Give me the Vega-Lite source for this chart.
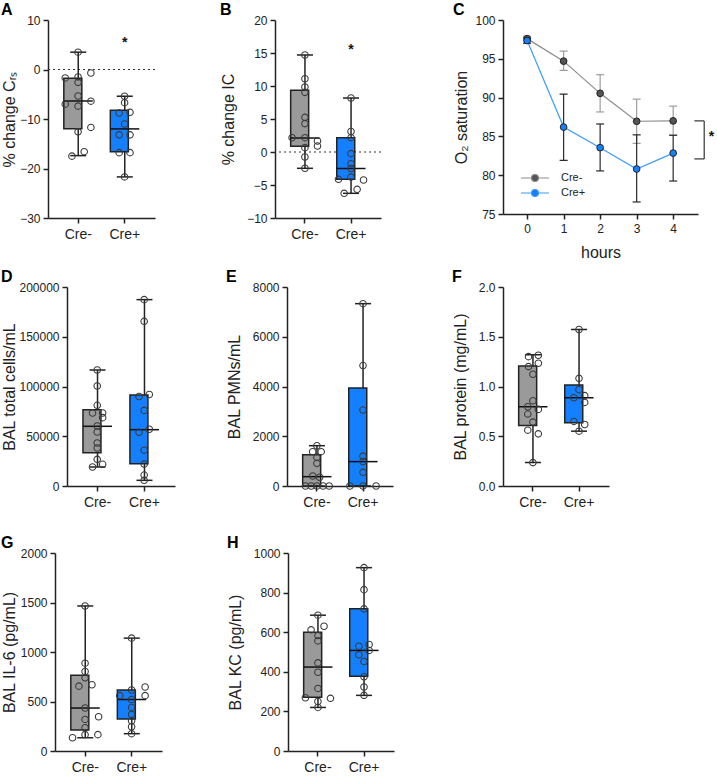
{
  "$schema": "https://vega.github.io/schema/vega-lite/v6.json",
  "padding": {"left": 0, "top": 2, "right": 0, "bottom": 0},
  "config": {
    "font": "Liberation Sans",
    "view": {"stroke": null},
    "axis": {"domainColor": "#222", "domainWidth": 1.5, "tickColor": "#222", "tickWidth": 1.5, "tickSize": 5, "labelColor": "#222", "labelFontSize": 12, "titleFontSize": 16, "titleFontWeight": "normal", "titleColor": "#222", "grid": false, "labelPadding": 3, "labelOverlap": false},
    "title": {"anchor": "start", "fontSize": 16, "fontWeight": "bold", "color": "#000", "offset": -4}
  },
  "resolve": {"scale": {"color": "independent", "fill": "independent", "stroke": "independent"}, "legend": {"color": "independent", "fill": "independent", "stroke": "independent"}},
  "datasets": {
    "A_pts": [
      {"group": "Cre-", "v": 3.5, "j": 0}, {"group": "Cre-", "v": -1.7, "j": -0.9}, {"group": "Cre-", "v": -1.5, "j": 0},
      {"group": "Cre-", "v": -0.7, "j": 0.9}, {"group": "Cre-", "v": -2.6, "j": 0}, {"group": "Cre-", "v": -5.35, "j": 0},
      {"group": "Cre-", "v": -7.0, "j": -0.9}, {"group": "Cre-", "v": -7.4, "j": 0}, {"group": "Cre-", "v": -6.4, "j": 0.9},
      {"group": "Cre-", "v": -12.6, "j": 0}, {"group": "Cre-", "v": -11.7, "j": 0.9}, {"group": "Cre-", "v": -17.5, "j": -0.43},
      {"group": "Cre-", "v": -16.6, "j": 0.43},
      {"group": "Cre+", "v": -5.4, "j": 0}, {"group": "Cre+", "v": -6.7, "j": 0}, {"group": "Cre+", "v": -8.8, "j": -0.38},
      {"group": "Cre+", "v": -8.65, "j": 0.38}, {"group": "Cre+", "v": -11.0, "j": 0}, {"group": "Cre+", "v": -13.2, "j": -0.38},
      {"group": "Cre+", "v": -13.2, "j": 0.38}, {"group": "Cre+", "v": -16.8, "j": -0.38}, {"group": "Cre+", "v": -16.8, "j": 0.38},
      {"group": "Cre+", "v": -21.7, "j": 0}
    ],
    "A_box": [
      {"group": "Cre-", "min": -17.4, "q1": -11.95, "med": -6.36, "q3": -1.78, "max": 3.5},
      {"group": "Cre+", "min": -21.7, "q1": -16.6, "med": -12.0, "q3": -8.25, "max": -5.4}
    ],
    "B_pts": [
      {"group": "Cre-", "v": 14.7, "j": 0}, {"group": "Cre-", "v": 11.1, "j": 0}, {"group": "Cre-", "v": 9.85, "j": 0},
      {"group": "Cre-", "v": 9.04, "j": 0}, {"group": "Cre-", "v": 5.25, "j": 0}, {"group": "Cre-", "v": 4.3, "j": 0},
      {"group": "Cre-", "v": 2.17, "j": 0}, {"group": "Cre-", "v": 2.17, "j": -0.9}, {"group": "Cre-", "v": 1.67, "j": 0.88},
      {"group": "Cre-", "v": 0.9, "j": 0.88}, {"group": "Cre-", "v": 0.66, "j": 0}, {"group": "Cre-", "v": -0.76, "j": 0},
      {"group": "Cre-", "v": -2.47, "j": 0},
      {"group": "Cre+", "v": 8.18, "j": 0}, {"group": "Cre+", "v": 3.1, "j": 0}, {"group": "Cre+", "v": 2.17, "j": 0},
      {"group": "Cre+", "v": -0.25, "j": 0}, {"group": "Cre+", "v": -1.77, "j": 0}, {"group": "Cre+", "v": -2.5, "j": 0},
      {"group": "Cre+", "v": -3.8, "j": 0}, {"group": "Cre+", "v": -4.14, "j": -0.88}, {"group": "Cre+", "v": -4.24, "j": 0.88},
      {"group": "Cre+", "v": -6.26, "j": -0.48}, {"group": "Cre+", "v": -5.66, "j": 0.43}
    ],
    "B_box": [
      {"group": "Cre-", "min": -2.47, "q1": 0.86, "med": 2.12, "q3": 9.34, "max": 14.7},
      {"group": "Cre+", "min": -6.26, "q1": -4.14, "med": -2.5, "q3": 2.17, "max": 8.18}
    ],
    "C_data": [
      {"group": "Cre-", "h": 0, "m": 97.6, "lo": 97.3, "hi": 97.9},
      {"group": "Cre-", "h": 1, "m": 94.7, "lo": 93.5, "hi": 96.0},
      {"group": "Cre-", "h": 2, "m": 90.55, "lo": 88.15, "hi": 92.95},
      {"group": "Cre-", "h": 3, "m": 86.95, "lo": 84.1, "hi": 89.8},
      {"group": "Cre-", "h": 4, "m": 87.0, "lo": 85.15, "hi": 88.9},
      {"group": "Cre+", "h": 0, "m": 97.35, "lo": 97.0, "hi": 97.7},
      {"group": "Cre+", "h": 1, "m": 86.2, "lo": 81.9, "hi": 90.45},
      {"group": "Cre+", "h": 2, "m": 83.55, "lo": 80.55, "hi": 86.6},
      {"group": "Cre+", "h": 3, "m": 80.8, "lo": 76.55, "hi": 85.2},
      {"group": "Cre+", "h": 4, "m": 82.85, "lo": 79.25, "hi": 85.15}
    ],
    "D_pts": [
      {"group": "Cre-", "v": 116600, "j": 0}, {"group": "Cre-", "v": 100500, "j": 0}, {"group": "Cre-", "v": 81100, "j": 0},
      {"group": "Cre-", "v": 73400, "j": -0.33}, {"group": "Cre-", "v": 73400, "j": 0.38}, {"group": "Cre-", "v": 68700, "j": 0.38},
      {"group": "Cre-", "v": 60300, "j": 0}, {"group": "Cre-", "v": 54300, "j": 0}, {"group": "Cre-", "v": 43200, "j": 0},
      {"group": "Cre-", "v": 38200, "j": 0}, {"group": "Cre-", "v": 26800, "j": 0}, {"group": "Cre-", "v": 19100, "j": -0.33},
      {"group": "Cre-", "v": 21800, "j": 0.38},
      {"group": "Cre+", "v": 187300, "j": 0}, {"group": "Cre+", "v": 165500, "j": 0}, {"group": "Cre+", "v": 90000, "j": -0.36},
      {"group": "Cre+", "v": 92000, "j": 0.36}, {"group": "Cre+", "v": 76000, "j": 0}, {"group": "Cre+", "v": 54000, "j": -0.36},
      {"group": "Cre+", "v": 57000, "j": 0.36}, {"group": "Cre+", "v": 36000, "j": 0}, {"group": "Cre+", "v": 22000, "j": 0},
      {"group": "Cre+", "v": 11000, "j": 0}, {"group": "Cre+", "v": 5700, "j": 0}
    ],
    "D_box": [
      {"group": "Cre-", "min": 19100, "q1": 33500, "med": 60000, "q3": 76700, "max": 116600},
      {"group": "Cre+", "min": 5700, "q1": 22400, "med": 56600, "q3": 91500, "max": 187300}
    ],
    "E_pts": [
      {"group": "Cre-", "v": 1620, "j": 0}, {"group": "Cre-", "v": 1380, "j": -0.3}, {"group": "Cre-", "v": 1380, "j": 0.3},
      {"group": "Cre-", "v": 1150, "j": 0}, {"group": "Cre-", "v": 910, "j": 0}, {"group": "Cre-", "v": 400, "j": -0.29},
      {"group": "Cre-", "v": 350, "j": 0.19}, {"group": "Cre-", "v": 0, "j": -0.8}, {"group": "Cre-", "v": 0, "j": -0.4},
      {"group": "Cre-", "v": 0, "j": 0}, {"group": "Cre-", "v": 0, "j": 0.43}, {"group": "Cre-", "v": 0, "j": 0.86},
      {"group": "Cre+", "v": 7330, "j": 0}, {"group": "Cre+", "v": 4842, "j": 0}, {"group": "Cre+", "v": 3053, "j": 0},
      {"group": "Cre+", "v": 1200, "j": 0}, {"group": "Cre+", "v": 980, "j": 0}, {"group": "Cre+", "v": 550, "j": 0},
      {"group": "Cre+", "v": 0, "j": -0.92}, {"group": "Cre+", "v": 0, "j": 0}, {"group": "Cre+", "v": 0, "j": 0.92}
    ],
    "E_box": [
      {"group": "Cre-", "min": 0, "q1": 0, "med": 375, "q3": 1260, "max": 1620},
      {"group": "Cre+", "min": 0, "q1": 0, "med": 980, "q3": 3941, "max": 7330}
    ],
    "F_pts": [
      {"group": "Cre-", "v": 1.30, "j": -0.31}, {"group": "Cre-", "v": 1.314, "j": 0.38}, {"group": "Cre-", "v": 1.20, "j": -0.31},
      {"group": "Cre-", "v": 1.234, "j": 0.38}, {"group": "Cre-", "v": 1.123, "j": 0}, {"group": "Cre-", "v": 0.857, "j": 0},
      {"group": "Cre-", "v": 0.797, "j": -0.36}, {"group": "Cre-", "v": 0.77, "j": 0.38}, {"group": "Cre-", "v": 0.723, "j": -0.36},
      {"group": "Cre-", "v": 0.642, "j": 0}, {"group": "Cre-", "v": 0.561, "j": -0.36}, {"group": "Cre-", "v": 0.524, "j": 0.38},
      {"group": "Cre-", "v": 0.235, "j": 0},
      {"group": "Cre+", "v": 1.573, "j": 0}, {"group": "Cre+", "v": 1.082, "j": 0}, {"group": "Cre+", "v": 0.968, "j": 0},
      {"group": "Cre+", "v": 0.887, "j": -0.36}, {"group": "Cre+", "v": 0.908, "j": 0.4}, {"group": "Cre+", "v": 0.84, "j": 0.4},
      {"group": "Cre+", "v": 0.649, "j": -0.36}, {"group": "Cre+", "v": 0.618, "j": 0.4}, {"group": "Cre+", "v": 0.551, "j": 0}
    ],
    "F_box": [
      {"group": "Cre-", "min": 0.235, "q1": 0.608, "med": 0.797, "q3": 1.207, "max": 1.318},
      {"group": "Cre+", "min": 0.551, "q1": 0.635, "med": 0.887, "q3": 1.015, "max": 1.573}
    ],
    "G_pts": [
      {"group": "Cre-", "v": 1465, "j": 0}, {"group": "Cre-", "v": 887, "j": 0}, {"group": "Cre-", "v": 803, "j": 0},
      {"group": "Cre-", "v": 739, "j": 0}, {"group": "Cre-", "v": 655, "j": -0.43}, {"group": "Cre-", "v": 669, "j": 0.48},
      {"group": "Cre-", "v": 434, "j": 0}, {"group": "Cre-", "v": 319, "j": 0}, {"group": "Cre-", "v": 346, "j": 0.95},
      {"group": "Cre-", "v": 235, "j": 0}, {"group": "Cre-", "v": 165, "j": 0}, {"group": "Cre-", "v": 134, "j": -0.88},
      {"group": "Cre-", "v": 165, "j": 0.9},
      {"group": "Cre+", "v": 1140, "j": 0}, {"group": "Cre+", "v": 646, "j": 0.95}, {"group": "Cre+", "v": 616, "j": 0},
      {"group": "Cre+", "v": 559, "j": -0.83}, {"group": "Cre+", "v": 559, "j": 0.95}, {"group": "Cre+", "v": 520, "j": 0},
      {"group": "Cre+", "v": 440, "j": 0}, {"group": "Cre+", "v": 370, "j": 0}, {"group": "Cre+", "v": 305, "j": 0},
      {"group": "Cre+", "v": 245, "j": 0}, {"group": "Cre+", "v": 175, "j": 0}
    ],
    "G_box": [
      {"group": "Cre-", "min": 134, "q1": 212, "med": 434, "q3": 766, "max": 1465},
      {"group": "Cre+", "min": 175, "q1": 323, "med": 520, "q3": 616, "max": 1140}
    ],
    "H_pts": [
      {"group": "Cre-", "v": 686, "j": 0}, {"group": "Cre-", "v": 612, "j": -0.48}, {"group": "Cre-", "v": 630, "j": 0.43},
      {"group": "Cre-", "v": 583, "j": 0}, {"group": "Cre-", "v": 556, "j": 0}, {"group": "Cre-", "v": 445, "j": 0},
      {"group": "Cre-", "v": 398, "j": 0}, {"group": "Cre-", "v": 316, "j": 0}, {"group": "Cre-", "v": 269, "j": -0.88},
      {"group": "Cre-", "v": 266, "j": 0.88}, {"group": "Cre-", "v": 250, "j": 0}, {"group": "Cre-", "v": 220, "j": 0},
      {"group": "Cre+", "v": 926, "j": 0}, {"group": "Cre+", "v": 815, "j": 0}, {"group": "Cre+", "v": 718, "j": 0},
      {"group": "Cre+", "v": 529, "j": -0.36}, {"group": "Cre+", "v": 538, "j": 0.36}, {"group": "Cre+", "v": 508, "j": 0.36},
      {"group": "Cre+", "v": 486, "j": -0.36}, {"group": "Cre+", "v": 452, "j": 0}, {"group": "Cre+", "v": 375, "j": 0},
      {"group": "Cre+", "v": 323, "j": 0}, {"group": "Cre+", "v": 281, "j": 0}
    ],
    "H_box": [
      {"group": "Cre-", "min": 220, "q1": 272, "med": 424, "q3": 600, "max": 686},
      {"group": "Cre+", "min": 281, "q1": 378, "med": 508, "q3": 718, "max": 926}
    ]
  },
  "vconcat": [
    {
      "resolve": {"scale": {"color": "independent", "fill": "independent", "stroke": "independent"}, "legend": {"color": "independent", "fill": "independent", "stroke": "independent"}},
      "vconcat": [
        {
          "resolve": {"scale": {"color": "independent", "fill": "independent", "stroke": "independent"}, "legend": {"color": "independent", "fill": "independent", "stroke": "independent"}},
          "hconcat": [
            {"width": 1, "height": 10, "data": {"values": [{}]}, "mark": {"type": "point", "opacity": 0, "size": 0}},
            {
              "resolve": {"scale": {"color": "independent", "fill": "independent", "stroke": "independent"}, "legend": {"color": "independent", "fill": "independent", "stroke": "independent"}},
              "hconcat": [
                {
                  "resolve": {"scale": {"color": "independent"}, "legend": {"color": "independent"}},
                  "hconcat": [
                    {
                      "title": "A", "width": 107, "height": 198,
                      "layer": [
                        {"data": {"values": [{}]}, "mark": {"type": "rule", "strokeDash": [2, 3], "color": "#333", "strokeWidth": 1}, "encoding": {"y": {"datum": 0}}},
                        {"data": {"name": "A_box"}, "mark": {"type": "rule", "color": "#222", "strokeWidth": 1.5},
                         "encoding": {"x": {"field": "group", "type": "nominal", "scale": {"domain": ["Cre-", "Cre+"], "paddingInner": 0.38, "paddingOuter": 0.34}, "axis": {"title": null, "labelAngle": 0, "labelFontSize": 14, "labelPadding": 4}},
                          "y": {"field": "min", "type": "quantitative", "scale": {"domain": [-30, 10], "nice": false}, "axis": {"values": [-30, -20, -10, 0, 10], "tickCount": 20, "format": "d", "labelOverlap": false, "title": "% change Cᵣₛ", "titleX": -31, "titleY": 99}}, "y2": {"field": "max"}}},
                        {"data": {"name": "A_box"}, "mark": {"type": "bar", "stroke": "#222", "strokeWidth": 1.5},
                         "encoding": {"x": {"field": "group", "type": "nominal"}, "y": {"field": "q1", "type": "quantitative"}, "y2": {"field": "q3"},
                          "color": {"field": "group", "type": "nominal", "scale": {"domain": ["Cre-", "Cre+"], "range": ["#9a9a9a", "#1480ff"]}, "legend": null}}},
                        {"data": {"name": "A_box"}, "mark": {"type": "tick", "color": "#111", "thickness": 1.5, "size": 29, "opacity": 1}, "encoding": {"x": {"field": "group", "type": "nominal"}, "y": {"field": "med", "type": "quantitative"}}},
                        {"data": {"name": "A_box"}, "mark": {"type": "tick", "color": "#222", "thickness": 1.5, "size": 16, "opacity": 1}, "encoding": {"x": {"field": "group", "type": "nominal"}, "y": {"field": "min", "type": "quantitative"}}},
                        {"data": {"name": "A_box"}, "mark": {"type": "tick", "color": "#222", "thickness": 1.5, "size": 16, "opacity": 1}, "encoding": {"x": {"field": "group", "type": "nominal"}, "y": {"field": "max", "type": "quantitative"}}},
                        {"data": {"name": "A_pts"}, "mark": {"type": "point", "shape": "circle", "filled": false, "stroke": "#3a3a3a", "strokeWidth": 1.1, "size": 42, "opacity": 1},
                         "encoding": {"x": {"field": "group", "type": "nominal"}, "xOffset": {"field": "j", "type": "quantitative", "scale": {"domain": [-1, 1], "range": [0, 28.5]}}, "y": {"field": "v", "type": "quantitative"}}},
                        {"data": {"values": [{}]}, "mark": {"type": "text", "text": "*", "fontSize": 14, "fontWeight": "bold", "color": "#111", "baseline": "middle"}, "encoding": {"x": {"datum": "Cre+"}, "y": {"datum": 5.4}}}
                      ]
                    },
                    {
                      "title": "B", "width": 106, "height": 198,
                      "layer": [
                        {"data": {"values": [{}]}, "mark": {"type": "rule", "strokeDash": [2, 3], "color": "#333", "strokeWidth": 1}, "encoding": {"y": {"datum": 0}}},
                        {"data": {"name": "B_box"}, "mark": {"type": "rule", "color": "#222", "strokeWidth": 1.5},
                         "encoding": {"x": {"field": "group", "type": "nominal", "scale": {"domain": ["Cre-", "Cre+"], "paddingInner": 0.38, "paddingOuter": 0.34}, "axis": {"title": null, "labelAngle": 0, "labelFontSize": 14, "labelPadding": 4}},
                          "y": {"field": "min", "type": "quantitative", "scale": {"domain": [-10, 20], "nice": false}, "axis": {"values": [-10, -5, 0, 5, 10, 15, 20], "tickCount": 20, "format": "d", "labelOverlap": false, "title": "% change IC", "titleX": -39, "titleY": 99}}, "y2": {"field": "max"}}},
                        {"data": {"name": "B_box"}, "mark": {"type": "bar", "stroke": "#222", "strokeWidth": 1.5},
                         "encoding": {"x": {"field": "group", "type": "nominal"}, "y": {"field": "q1", "type": "quantitative"}, "y2": {"field": "q3"},
                          "color": {"field": "group", "type": "nominal", "scale": {"domain": ["Cre-", "Cre+"], "range": ["#9a9a9a", "#1480ff"]}, "legend": null}}},
                        {"data": {"name": "B_box"}, "mark": {"type": "tick", "color": "#111", "thickness": 1.5, "size": 29, "opacity": 1}, "encoding": {"x": {"field": "group", "type": "nominal"}, "y": {"field": "med", "type": "quantitative"}}},
                        {"data": {"name": "B_box"}, "mark": {"type": "tick", "color": "#222", "thickness": 1.5, "size": 16, "opacity": 1}, "encoding": {"x": {"field": "group", "type": "nominal"}, "y": {"field": "min", "type": "quantitative"}}},
                        {"data": {"name": "B_box"}, "mark": {"type": "tick", "color": "#222", "thickness": 1.5, "size": 16, "opacity": 1}, "encoding": {"x": {"field": "group", "type": "nominal"}, "y": {"field": "max", "type": "quantitative"}}},
                        {"data": {"name": "B_pts"}, "mark": {"type": "point", "shape": "circle", "filled": false, "stroke": "#3a3a3a", "strokeWidth": 1.1, "size": 42, "opacity": 1},
                         "encoding": {"x": {"field": "group", "type": "nominal"}, "xOffset": {"field": "j", "type": "quantitative", "scale": {"domain": [-1, 1], "range": [0, 28.5]}}, "y": {"field": "v", "type": "quantitative"}}},
                        {"data": {"values": [{}]}, "mark": {"type": "text", "text": "*", "fontSize": 14, "fontWeight": "bold", "color": "#111", "baseline": "middle"}, "encoding": {"x": {"datum": "Cre+"}, "y": {"datum": 15.5}}}
                      ]
                    }
                  ],
                  "spacing": 64
                },
                {
                  "title": "C", "width": 195, "height": 194,
                  "data": {"name": "C_data"},
                  "layer": [
                    {"transform": [{"filter": "datum.group == 'Cre-'"}], "mark": {"type": "rule", "color": "#9d9d9d", "strokeWidth": 1.2},
                     "encoding": {"x": {"field": "h", "type": "quantitative", "scale": {"domain": [-0.66, 4.68], "nice": false, "zero": false}, "axis": {"values": [0, 1, 2, 3, 4], "tickCount": 20, "format": "d", "title": "hours", "titlePadding": 10, "labelPadding": 4}},
                      "y": {"field": "lo", "type": "quantitative", "scale": {"domain": [75, 100], "nice": false, "zero": false}, "axis": {"values": [75, 80, 85, 90, 95, 100], "tickCount": 20, "format": "d", "labelOverlap": false, "title": "O₂ saturation", "titleX": -34, "titleY": 97}}, "y2": {"field": "hi"}}},
                    {"transform": [{"filter": "datum.group == 'Cre-'"}, {"fold": ["lo", "hi"], "as": ["k", "e"]}], "mark": {"type": "tick", "orient": "horizontal", "color": "#9d9d9d", "thickness": 1.2, "size": 8, "opacity": 1},
                     "encoding": {"x": {"field": "h", "type": "quantitative"}, "y": {"field": "e", "type": "quantitative"}}},
                    {"transform": [{"filter": "datum.group == 'Cre+'"}], "mark": {"type": "rule", "color": "#2a2a2a", "strokeWidth": 1.2},
                     "encoding": {"x": {"field": "h", "type": "quantitative"}, "y": {"field": "lo", "type": "quantitative"}, "y2": {"field": "hi"}}},
                    {"transform": [{"filter": "datum.group == 'Cre+'"}, {"fold": ["lo", "hi"], "as": ["k", "e"]}], "mark": {"type": "tick", "orient": "horizontal", "color": "#2a2a2a", "thickness": 1.2, "size": 8, "opacity": 1},
                     "encoding": {"x": {"field": "h", "type": "quantitative"}, "y": {"field": "e", "type": "quantitative"}}},
                    {"mark": {"type": "line", "strokeWidth": 1.2},
                     "encoding": {"x": {"field": "h", "type": "quantitative"}, "y": {"field": "m", "type": "quantitative"},
                      "stroke": {"field": "group", "type": "nominal", "scale": {"domain": ["Cre-", "Cre+"], "range": ["#8c8c8c", "#3d9bff"]},
                       "legend": {"orient": "none", "legendX": 26, "legendY": 152, "title": null, "symbolType": "M-2.8,0H-0.7M0.7,0H2.8M-0.7,0A0.7,0.7,0,1,1,0.7,0A0.7,0.7,0,1,1,-0.7,0Z", "symbolSize": 100, "symbolStrokeWidth": 1.2, "labelFontSize": 11, "labelOffset": 20, "rowPadding": 3, "labelColor": "#222", "padding": 0}}}},
                    {"mark": {"type": "point", "shape": "circle", "filled": true, "stroke": "#222", "strokeWidth": 1, "size": 45, "opacity": 1},
                     "encoding": {"x": {"field": "h", "type": "quantitative"}, "y": {"field": "m", "type": "quantitative"},
                      "fill": {"field": "group", "type": "nominal", "scale": {"domain": ["Cre-", "Cre+"], "range": ["#555555", "#1480ff"]},
                       "legend": {"orient": "none", "legendX": 26, "legendY": 152, "title": null, "symbolType": "M-2.8,0H-0.7M0.7,0H2.8M-0.7,0A0.7,0.7,0,1,1,0.7,0A0.7,0.7,0,1,1,-0.7,0Z", "symbolSize": 100, "symbolStrokeWidth": 1.2, "labelFontSize": 11, "labelOffset": 20, "rowPadding": 3, "labelColor": "#222", "padding": 0}}}},
                    {"data": {"values": [{}]}, "mark": {"type": "rule", "color": "#333", "strokeWidth": 1.2}, "encoding": {"x": {"datum": 4.85}, "y": {"datum": 82.1}, "y2": {"datum": 87.0}}},
                    {"data": {"values": [{}]}, "mark": {"type": "rule", "color": "#333", "strokeWidth": 1.2}, "encoding": {"x": {"datum": 4.58}, "x2": {"datum": 4.85}, "y": {"datum": 87.0}}},
                    {"data": {"values": [{}]}, "mark": {"type": "rule", "color": "#333", "strokeWidth": 1.2}, "encoding": {"x": {"datum": 4.58}, "x2": {"datum": 4.85}, "y": {"datum": 82.1}}},
                    {"data": {"values": [{}]}, "mark": {"type": "text", "text": "*", "fontSize": 14, "fontWeight": "bold", "color": "#111", "baseline": "middle"}, "encoding": {"x": {"datum": 5.05}, "y": {"datum": 84.9}}}
                  ]
                }
              ],
              "spacing": 71
            }
          ],
          "spacing": 0
        },
        {
          "resolve": {"scale": {"color": "independent"}, "legend": {"color": "independent"}},
          "hconcat": [
            {"width": 1, "height": 10, "data": {"values": [{}]}, "mark": {"type": "point", "opacity": 0, "size": 0}},
            {
              "resolve": {"scale": {"color": "independent"}, "legend": {"color": "independent"}},
              "hconcat": [
                {
                  "resolve": {"scale": {"color": "independent"}, "legend": {"color": "independent"}},
                  "hconcat": [
                    {
                      "title": "D", "width": 108, "height": 199,
                      "layer": [
                        {"data": {"name": "D_box"}, "mark": {"type": "rule", "color": "#222", "strokeWidth": 1.5},
                         "encoding": {"x": {"field": "group", "type": "nominal", "scale": {"domain": ["Cre-", "Cre+"], "paddingInner": 0.38, "paddingOuter": 0.34}, "axis": {"title": null, "labelAngle": 0, "labelFontSize": 14, "labelPadding": 4}},
                          "y": {"field": "min", "type": "quantitative", "scale": {"domain": [0, 200000], "nice": false}, "axis": {"values": [0, 50000, 100000, 150000, 200000], "tickCount": 20, "labelOverlap": false, "format": "d", "title": "BAL total cells/mL", "titleX": -50, "titleY": 99.5}}, "y2": {"field": "max"}}},
                        {"data": {"name": "D_box"}, "mark": {"type": "bar", "stroke": "#222", "strokeWidth": 1.5},
                         "encoding": {"x": {"field": "group", "type": "nominal"}, "y": {"field": "q1", "type": "quantitative"}, "y2": {"field": "q3"},
                          "color": {"field": "group", "type": "nominal", "scale": {"domain": ["Cre-", "Cre+"], "range": ["#9a9a9a", "#1480ff"]}, "legend": null}}},
                        {"data": {"name": "D_box"}, "mark": {"type": "tick", "color": "#111", "thickness": 1.5, "size": 29, "opacity": 1}, "encoding": {"x": {"field": "group", "type": "nominal"}, "y": {"field": "med", "type": "quantitative"}}},
                        {"data": {"name": "D_box"}, "mark": {"type": "tick", "color": "#222", "thickness": 1.5, "size": 16, "opacity": 1}, "encoding": {"x": {"field": "group", "type": "nominal"}, "y": {"field": "min", "type": "quantitative"}}},
                        {"data": {"name": "D_box"}, "mark": {"type": "tick", "color": "#222", "thickness": 1.5, "size": 16, "opacity": 1}, "encoding": {"x": {"field": "group", "type": "nominal"}, "y": {"field": "max", "type": "quantitative"}}},
                        {"data": {"name": "D_pts"}, "mark": {"type": "point", "shape": "circle", "filled": false, "stroke": "#3a3a3a", "strokeWidth": 1.1, "size": 42, "opacity": 1},
                         "encoding": {"x": {"field": "group", "type": "nominal"}, "xOffset": {"field": "j", "type": "quantitative", "scale": {"domain": [-1, 1], "range": [0, 28.5]}}, "y": {"field": "v", "type": "quantitative"}}}
                      ]
                    },
                    {
                      "title": "E", "width": 106, "height": 199,
                      "layer": [
                        {"data": {"name": "E_box"}, "mark": {"type": "rule", "color": "#222", "strokeWidth": 1.5},
                         "encoding": {"x": {"field": "group", "type": "nominal", "scale": {"domain": ["Cre-", "Cre+"], "paddingInner": 0.38, "paddingOuter": 0.34}, "axis": {"title": null, "labelAngle": 0, "labelFontSize": 14, "labelPadding": 4}},
                          "y": {"field": "min", "type": "quantitative", "scale": {"domain": [0, 8000], "nice": false}, "axis": {"values": [0, 2000, 4000, 6000, 8000], "tickCount": 20, "labelOverlap": false, "format": "d", "title": "BAL PMNs/mL", "titleX": -45, "titleY": 99.5}}, "y2": {"field": "max"}}},
                        {"data": {"name": "E_box"}, "mark": {"type": "bar", "stroke": "#222", "strokeWidth": 1.5},
                         "encoding": {"x": {"field": "group", "type": "nominal"}, "y": {"field": "q1", "type": "quantitative"}, "y2": {"field": "q3"},
                          "color": {"field": "group", "type": "nominal", "scale": {"domain": ["Cre-", "Cre+"], "range": ["#9a9a9a", "#1480ff"]}, "legend": null}}},
                        {"data": {"name": "E_box"}, "mark": {"type": "tick", "color": "#111", "thickness": 1.5, "size": 29, "opacity": 1}, "encoding": {"x": {"field": "group", "type": "nominal"}, "y": {"field": "med", "type": "quantitative"}}},
                        {"data": {"name": "E_box"}, "mark": {"type": "tick", "color": "#222", "thickness": 1.5, "size": 16, "opacity": 1}, "encoding": {"x": {"field": "group", "type": "nominal"}, "y": {"field": "min", "type": "quantitative"}}},
                        {"data": {"name": "E_box"}, "mark": {"type": "tick", "color": "#222", "thickness": 1.5, "size": 16, "opacity": 1}, "encoding": {"x": {"field": "group", "type": "nominal"}, "y": {"field": "max", "type": "quantitative"}}},
                        {"data": {"name": "E_pts"}, "mark": {"type": "point", "shape": "circle", "filled": false, "stroke": "#3a3a3a", "strokeWidth": 1.1, "size": 42, "opacity": 1},
                         "encoding": {"x": {"field": "group", "type": "nominal"}, "xOffset": {"field": "j", "type": "quantitative", "scale": {"domain": [-1, 1], "range": [0, 28.5]}}, "y": {"field": "v", "type": "quantitative"}}}
                      ]
                    }
                  ],
                  "spacing": 51
                },
                {
                  "title": "F", "width": 106, "height": 199,
                  "layer": [
                    {"data": {"name": "F_box"}, "mark": {"type": "rule", "color": "#222", "strokeWidth": 1.5},
                     "encoding": {"x": {"field": "group", "type": "nominal", "scale": {"domain": ["Cre-", "Cre+"], "paddingInner": 0.38, "paddingOuter": 0.34}, "axis": {"title": null, "labelAngle": 0, "labelFontSize": 14, "labelPadding": 4}},
                      "y": {"field": "min", "type": "quantitative", "scale": {"domain": [0, 2], "nice": false}, "axis": {"values": [0, 0.5, 1, 1.5, 2], "tickCount": 20, "labelOverlap": false, "format": ".1f", "title": "BAL protein (mg/mL)", "titleX": -35, "titleY": 99.5}}, "y2": {"field": "max"}}},
                    {"data": {"name": "F_box"}, "mark": {"type": "bar", "stroke": "#222", "strokeWidth": 1.5},
                     "encoding": {"x": {"field": "group", "type": "nominal"}, "y": {"field": "q1", "type": "quantitative"}, "y2": {"field": "q3"},
                      "color": {"field": "group", "type": "nominal", "scale": {"domain": ["Cre-", "Cre+"], "range": ["#9a9a9a", "#1480ff"]}, "legend": null}}},
                    {"data": {"name": "F_box"}, "mark": {"type": "tick", "color": "#111", "thickness": 1.5, "size": 29, "opacity": 1}, "encoding": {"x": {"field": "group", "type": "nominal"}, "y": {"field": "med", "type": "quantitative"}}},
                    {"data": {"name": "F_box"}, "mark": {"type": "tick", "color": "#222", "thickness": 1.5, "size": 16, "opacity": 1}, "encoding": {"x": {"field": "group", "type": "nominal"}, "y": {"field": "min", "type": "quantitative"}}},
                    {"data": {"name": "F_box"}, "mark": {"type": "tick", "color": "#222", "thickness": 1.5, "size": 16, "opacity": 1}, "encoding": {"x": {"field": "group", "type": "nominal"}, "y": {"field": "max", "type": "quantitative"}}},
                    {"data": {"name": "F_pts"}, "mark": {"type": "point", "shape": "circle", "filled": false, "stroke": "#3a3a3a", "strokeWidth": 1.1, "size": 42, "opacity": 1},
                     "encoding": {"x": {"field": "group", "type": "nominal"}, "xOffset": {"field": "j", "type": "quantitative", "scale": {"domain": [-1, 1], "range": [0, 28.5]}}, "y": {"field": "v", "type": "quantitative"}}}
                  ]
                }
              ],
              "spacing": 59
            }
          ],
          "spacing": 0
        }
      ],
      "spacing": 9
    },
    {
      "resolve": {"scale": {"color": "independent"}, "legend": {"color": "independent"}},
      "hconcat": [
        {"width": 1, "height": 10, "data": {"values": [{}]}, "mark": {"type": "point", "opacity": 0, "size": 0}},
        {
          "resolve": {"scale": {"color": "independent"}, "legend": {"color": "independent"}},
          "hconcat": [
            {
              "title": "G", "width": 107, "height": 198,
              "layer": [
                {"data": {"name": "G_box"}, "mark": {"type": "rule", "color": "#222", "strokeWidth": 1.5},
                 "encoding": {"x": {"field": "group", "type": "nominal", "scale": {"domain": ["Cre-", "Cre+"], "paddingInner": 0.38, "paddingOuter": 0.34}, "axis": {"title": null, "labelAngle": 0, "labelFontSize": 14, "labelPadding": 4}},
                  "y": {"field": "min", "type": "quantitative", "scale": {"domain": [0, 2000], "nice": false}, "axis": {"values": [0, 500, 1000, 1500, 2000], "tickCount": 20, "labelOverlap": false, "format": "d", "title": "BAL IL-6 (pg/mL)", "titleX": -38, "titleY": 99}}, "y2": {"field": "max"}}},
                {"data": {"name": "G_box"}, "mark": {"type": "bar", "stroke": "#222", "strokeWidth": 1.5},
                 "encoding": {"x": {"field": "group", "type": "nominal"}, "y": {"field": "q1", "type": "quantitative"}, "y2": {"field": "q3"},
                  "color": {"field": "group", "type": "nominal", "scale": {"domain": ["Cre-", "Cre+"], "range": ["#9a9a9a", "#1480ff"]}, "legend": null}}},
                {"data": {"name": "G_box"}, "mark": {"type": "tick", "color": "#111", "thickness": 1.5, "size": 29, "opacity": 1}, "encoding": {"x": {"field": "group", "type": "nominal"}, "y": {"field": "med", "type": "quantitative"}}},
                {"data": {"name": "G_box"}, "mark": {"type": "tick", "color": "#222", "thickness": 1.5, "size": 16, "opacity": 1}, "encoding": {"x": {"field": "group", "type": "nominal"}, "y": {"field": "min", "type": "quantitative"}}},
                {"data": {"name": "G_box"}, "mark": {"type": "tick", "color": "#222", "thickness": 1.5, "size": 16, "opacity": 1}, "encoding": {"x": {"field": "group", "type": "nominal"}, "y": {"field": "max", "type": "quantitative"}}},
                {"data": {"name": "G_pts"}, "mark": {"type": "point", "shape": "circle", "filled": false, "stroke": "#3a3a3a", "strokeWidth": 1.1, "size": 42, "opacity": 1},
                 "encoding": {"x": {"field": "group", "type": "nominal"}, "xOffset": {"field": "j", "type": "quantitative", "scale": {"domain": [-1, 1], "range": [0, 28.5]}}, "y": {"field": "v", "type": "quantitative"}}}
              ]
            },
            {
              "title": "H", "width": 106, "height": 198,
              "layer": [
                {"data": {"name": "H_box"}, "mark": {"type": "rule", "color": "#222", "strokeWidth": 1.5},
                 "encoding": {"x": {"field": "group", "type": "nominal", "scale": {"domain": ["Cre-", "Cre+"], "paddingInner": 0.38, "paddingOuter": 0.34}, "axis": {"title": null, "labelAngle": 0, "labelFontSize": 14, "labelPadding": 4}},
                  "y": {"field": "min", "type": "quantitative", "scale": {"domain": [0, 1000], "nice": false}, "axis": {"values": [0, 200, 400, 600, 800, 1000], "tickCount": 20, "labelOverlap": false, "format": "d", "title": "BAL KC (pg/mL)", "titleX": -45, "titleY": 99}}, "y2": {"field": "max"}}},
                {"data": {"name": "H_box"}, "mark": {"type": "bar", "stroke": "#222", "strokeWidth": 1.5},
                 "encoding": {"x": {"field": "group", "type": "nominal"}, "y": {"field": "q1", "type": "quantitative"}, "y2": {"field": "q3"},
                  "color": {"field": "group", "type": "nominal", "scale": {"domain": ["Cre-", "Cre+"], "range": ["#9a9a9a", "#1480ff"]}, "legend": null}}},
                {"data": {"name": "H_box"}, "mark": {"type": "tick", "color": "#111", "thickness": 1.5, "size": 29, "opacity": 1}, "encoding": {"x": {"field": "group", "type": "nominal"}, "y": {"field": "med", "type": "quantitative"}}},
                {"data": {"name": "H_box"}, "mark": {"type": "tick", "color": "#222", "thickness": 1.5, "size": 16, "opacity": 1}, "encoding": {"x": {"field": "group", "type": "nominal"}, "y": {"field": "min", "type": "quantitative"}}},
                {"data": {"name": "H_box"}, "mark": {"type": "tick", "color": "#222", "thickness": 1.5, "size": 16, "opacity": 1}, "encoding": {"x": {"field": "group", "type": "nominal"}, "y": {"field": "max", "type": "quantitative"}}},
                {"data": {"name": "H_pts"}, "mark": {"type": "point", "shape": "circle", "filled": false, "stroke": "#3a3a3a", "strokeWidth": 1.1, "size": 42, "opacity": 1},
                 "encoding": {"x": {"field": "group", "type": "nominal"}, "xOffset": {"field": "j", "type": "quantitative", "scale": {"domain": [-1, 1], "range": [0, 28.5]}}, "y": {"field": "v", "type": "quantitative"}}}
              ]
            }
          ],
          "spacing": 65
        }
      ],
      "spacing": 0
    }
  ],
  "spacing": 26
}
